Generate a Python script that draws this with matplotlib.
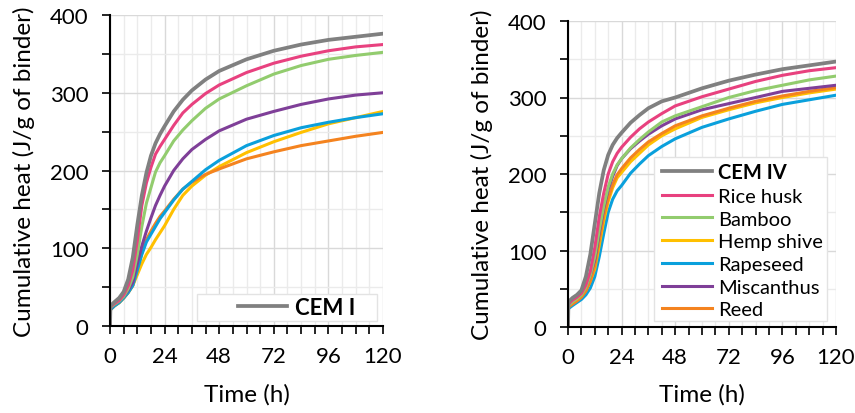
import matplotlib.pyplot as plt
from matplotlib.patches import Rectangle
from matplotlib.ticker import MultipleLocator

plt.rcParams['font.family'] = ['Lato', 'DejaVu Sans']

# time (h)
t = [0, 0.2, 2, 4, 6, 8, 10, 12, 14, 16, 18, 20, 22, 24, 28, 32, 36, 42, 48, 60, 72, 84, 96, 108, 120]

# CEM I series (J/g of binder)
cem1 = [0, 26, 31, 36, 44, 60, 88, 130, 168, 197, 219, 235, 247, 257, 276, 291, 303, 317, 328, 343, 354, 362, 368, 372, 376]
cem1_rice = [0, 25, 29, 33, 40, 52, 72, 110, 155, 184, 204, 221, 231, 240, 258, 274, 285, 299, 310, 326, 338, 347, 354, 359, 362]
cem1_bamboo = [0, 24, 28, 32, 38, 48, 63, 92, 128, 158, 178, 198, 210, 219, 238, 252, 264, 280, 292, 309, 324, 335, 343, 348, 352]
cem1_misc = [0, 23, 28, 32, 38, 46, 56, 80, 103, 122, 139, 155, 168, 180, 200, 215, 227, 240, 251, 266, 276, 285, 292, 297, 300]
cem1_rape = [0, 21, 26, 30, 36, 43, 52, 72, 92, 108, 118, 128, 138, 146, 162, 176, 186, 201, 213, 232, 245, 255, 262, 268, 273]
cem1_reed = [0, 21, 26, 30, 36, 43, 52, 72, 94, 111, 122, 132, 141, 148, 163, 176, 185, 195, 202, 215, 224, 232, 238, 244, 249]
cem1_hemp = [0, 21, 26, 30, 36, 43, 52, 66, 80, 92, 101, 111, 120, 129, 150, 168, 180, 194, 205, 223, 237, 249, 260, 268, 276]

# CEM IV series
cem4 = [0, 33, 38, 42, 48, 66, 95, 135, 175, 205, 225, 238, 247, 254, 267, 277, 286, 295, 300, 312, 322, 330, 337, 342, 347]
cem4_rice = [0, 30, 35, 39, 44, 55, 73, 104, 144, 175, 200, 216, 227, 235, 248, 259, 268, 279, 289, 301, 311, 321, 329, 335, 339]
cem4_bamboo = [0, 28, 33, 37, 42, 52, 68, 92, 127, 158, 183, 200, 212, 220, 234, 245, 255, 268, 276, 288, 300, 309, 316, 323, 328]
cem4_misc = [0, 31, 36, 40, 45, 53, 68, 88, 123, 155, 180, 197, 211, 220, 233, 243, 252, 263, 272, 284, 292, 300, 308, 312, 316]
cem4_reed = [0, 26, 30, 34, 39, 47, 60, 80, 113, 145, 168, 186, 199, 207, 221, 232, 242, 253, 263, 276, 286, 295, 302, 308, 313]
cem4_hemp = [0, 27, 31, 35, 40, 48, 60, 76, 107, 139, 164, 182, 195, 202, 216, 227, 238, 250, 259, 274, 284, 293, 300, 306, 311]
cem4_rape = [0, 24, 28, 32, 36, 42, 51, 66, 92, 122, 150, 167, 178, 185, 201, 213, 224, 236, 246, 261, 272, 282, 291, 297, 303]

col = {'ref': '#808080', 'rice': '#e8417f', 'bamboo': '#92cc6e', 'hemp': '#ffc000',
       'rape': '#0aa0dc', 'misc': '#7f3f98', 'reed': '#f4831f'}

fig = plt.figure(figsize=(8.55, 4.14), dpi=100)
ax1 = fig.add_axes([110/855, 87/414, 273/855, 311/414])
ax2 = fig.add_axes([568/855, 86/414, 268/855, 306/414])


def style(ax):
    ax.set_xlim(0, 120)
    ax.set_ylim(0, 400)
    ax.xaxis.set_major_locator(MultipleLocator(24))
    ax.xaxis.set_minor_locator(MultipleLocator(6))
    ax.yaxis.set_major_locator(MultipleLocator(100))
    ax.yaxis.set_minor_locator(MultipleLocator(50))
    ax.grid(which='major', color='#d9d9d9', lw=1.0)
    ax.grid(which='minor', color='#ebebeb', lw=1.0)
    ax.set_axisbelow(True)
    for s in ['top', 'right']:
        ax.spines[s].set_visible(False)
    for s in ['left', 'bottom']:
        ax.spines[s].set_linewidth(1.5)
    ax.tick_params(which='both', direction='out', length=5.5, width=1.2, labelsize=16)
    ax.tick_params(axis='x', pad=9)
    ax.tick_params(axis='y', pad=10)
    ax.set_xlabel('Time (h)', fontsize=17.5)
    ax.set_ylabel('Cumulative heat (J/g of binder)', fontsize=17.5)
    ax.xaxis.set_label_coords(0.5, -0.183)


lw = 2.2
ax1.plot(t, cem1_hemp, color=col['hemp'], lw=lw)
ax1.plot(t, cem1_reed, color=col['reed'], lw=lw)
ax1.plot(t, cem1_rape, color=col['rape'], lw=lw)
ax1.plot(t, cem1_misc, color=col['misc'], lw=lw)
ax1.plot(t, cem1_bamboo, color=col['bamboo'], lw=lw)
ax1.plot(t, cem1_rice, color=col['rice'], lw=lw)
l1, = ax1.plot(t, cem1, color=col['ref'], lw=lw + 0.5)
style(ax1)
ax1.yaxis.set_label_coords(-0.275, 0.5)
ax1.add_patch(Rectangle((0.319, 0.016), 0.659, 0.087, transform=ax1.transAxes, facecolor='white',
                        edgecolor='#e3e3e3', lw=1.0, zorder=4))
leg1 = ax1.legend([l1], ['CEM I'], loc='center left', bbox_to_anchor=(0.469, 0.061), fontsize=16,
                  frameon=False, handlelength=2.2, handletextpad=0.35, borderpad=0, borderaxespad=0)
leg1.set_zorder(5)
leg1.get_texts()[0].set_fontweight('bold')

ax2.plot(t, cem4_rape, color=col['rape'], lw=lw)
ax2.plot(t, cem4_hemp, color=col['hemp'], lw=lw)
ax2.plot(t, cem4_reed, color=col['reed'], lw=lw)
ax2.plot(t, cem4_misc, color=col['misc'], lw=lw)
ax2.plot(t, cem4_bamboo, color=col['bamboo'], lw=lw)
ax2.plot(t, cem4_rice, color=col['rice'], lw=lw)
ax2.plot(t, cem4, color=col['ref'], lw=lw + 0.5)
style(ax2)
ax2.yaxis.set_label_coords(-0.28, 0.5)
ax2.add_patch(Rectangle((0.321, 0.02), 0.645, 0.536, transform=ax2.transAxes, facecolor='white',
                        edgecolor='#e3e3e3', lw=1.0, zorder=4))
names = ['CEM IV', 'Rice husk', 'Bamboo', 'Hemp shive', 'Rapeseed', 'Miscanthus', 'Reed']
keys = ['ref', 'rice', 'bamboo', 'hemp', 'rape', 'misc', 'reed']
handles = [plt.Line2D([], [], color=col[k], lw=lw + (0.5 if k == 'ref' else 0)) for k in keys]
leg2 = ax2.legend(handles, names, loc='upper left', bbox_to_anchor=(0.351, 0.539), fontsize=14.5,
                  frameon=False, handlelength=2.5, handletextpad=0.3, borderpad=0, borderaxespad=0,
                  labelspacing=0.28)
leg2.set_zorder(5)
leg2.get_texts()[0].set_fontweight('bold')

fig.savefig('out.png', dpi=100)
